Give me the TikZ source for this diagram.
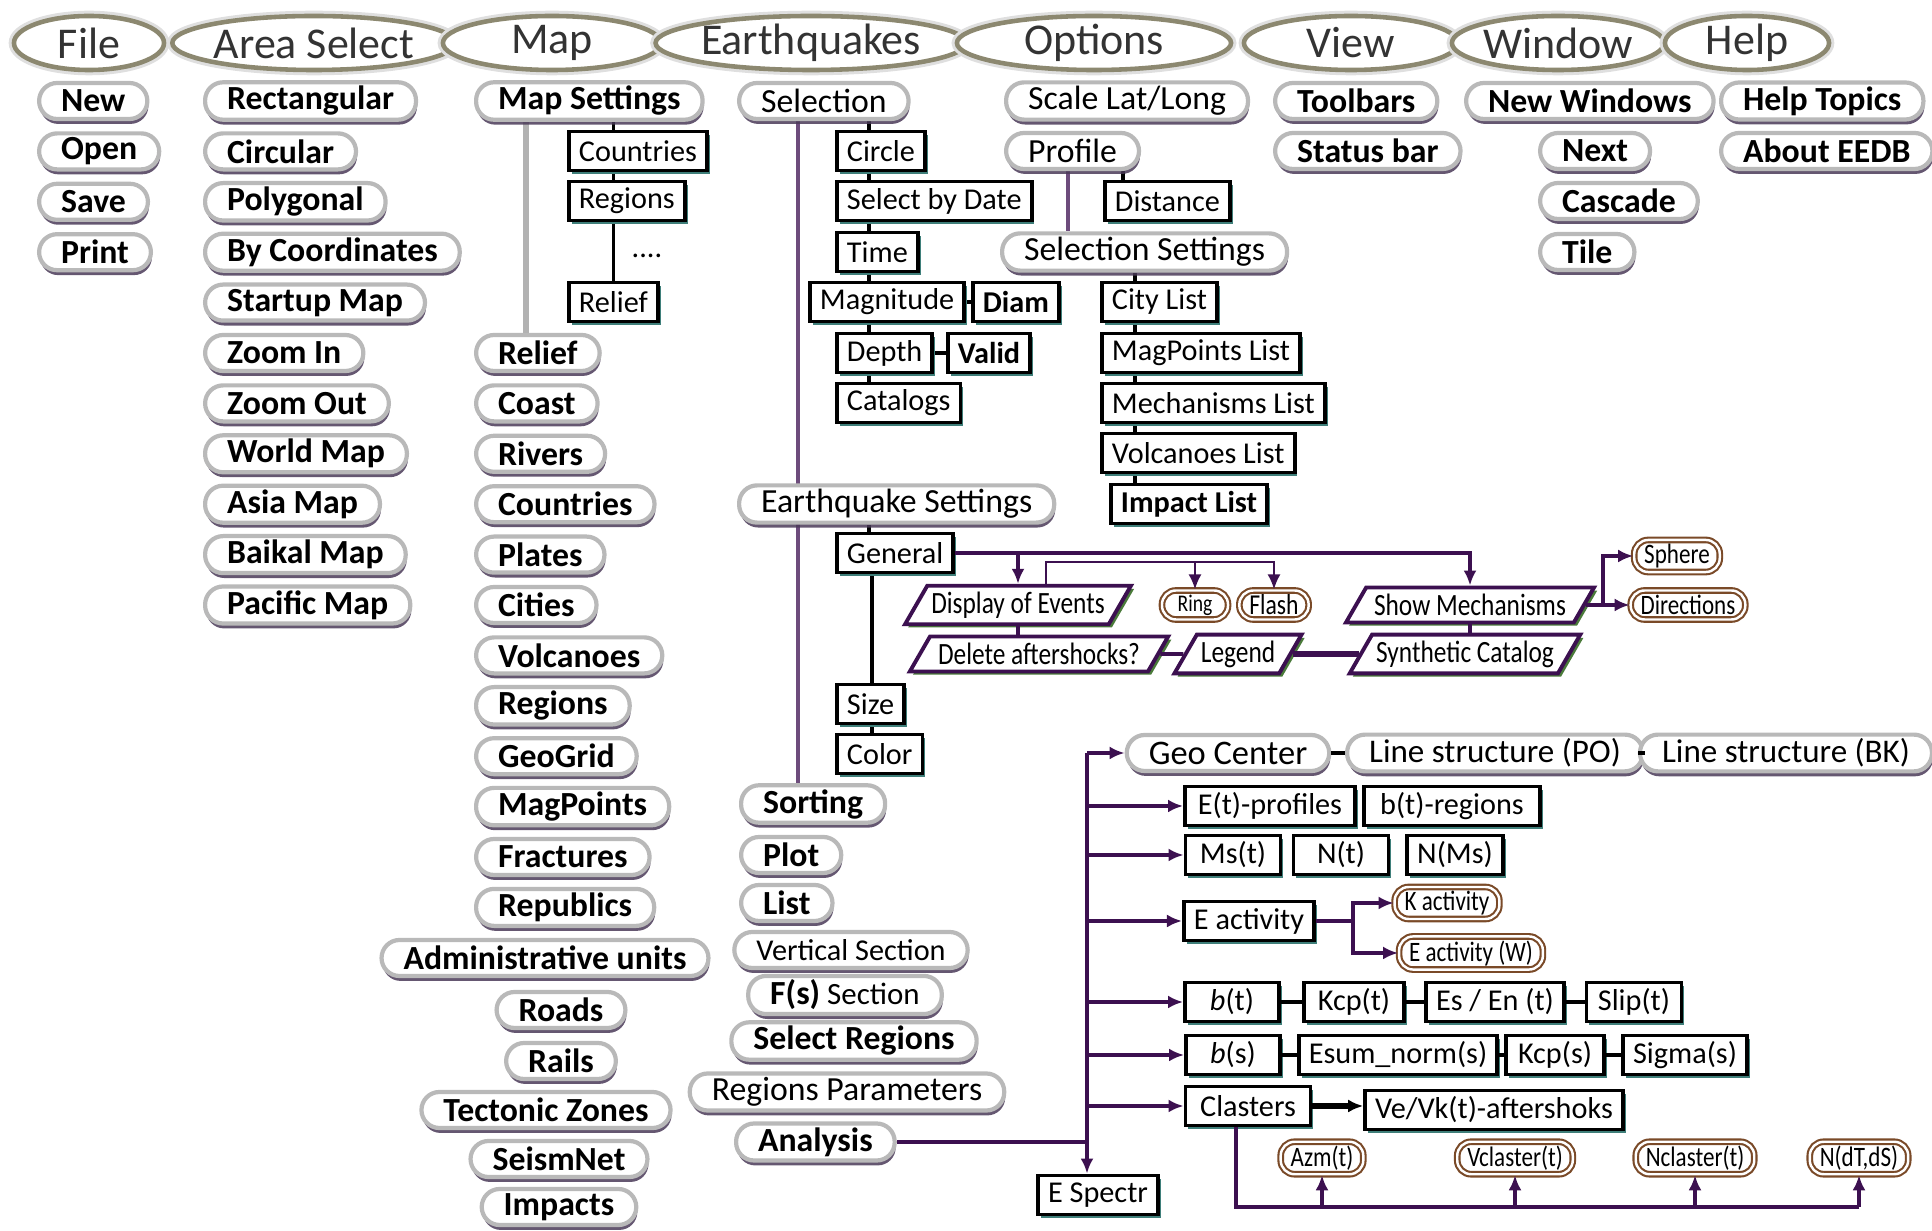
\documentclass[tikz,border=0pt]{standalone}
\usepackage{fontspec}
\setmainfont{Carlito}
\newfontfamily\condfont[FakeStretch=0.82]{Carlito}
\usetikzlibrary{shapes.geometric,shadows,arrows.meta,backgrounds}

\definecolor{linec}{HTML}{3C1050}
\definecolor{menuc}{HTML}{8C8870}
\definecolor{pillsh}{HTML}{4A3A58}
\definecolor{boxsh}{HTML}{3F7F7A}
\definecolor{parash}{HTML}{4A7A3A}
\definecolor{ovalc}{HTML}{7A4A28}

\newcommand\menufont{\fontsize{12.5}{14}\selectfont}
\newcommand\itemfont{\fontsize{9.6}{11}\selectfont}
\newcommand\bxfont{\fontsize{8.6}{10}\selectfont}
\newcommand\parafont{\condfont\fontsize{8.8}{10}\selectfont}
\newcommand\ovfont{\condfont\fontsize{8}{9}\selectfont}

\tikzset{
  menu/.style={ellipse, draw=menuc, line width=1.3pt, fill=white,
    preaction={draw=gray!25, line width=3pt}, inner sep=0pt,
    minimum height=5.4mm, text=black!80, font=\menufont},
  itemr/.style={rectangle, rounded corners=1.8mm, draw=gray!55, line width=1.2pt,
    fill=white, inner xsep=2.2mm, inner ysep=0.4mm, minimum height=3.6mm,
    drop shadow={shadow xshift=0.3pt, shadow yshift=-1.4pt, fill=pillsh, opacity=.85},
    font=\itemfont},
  item/.style={itemr, font=\itemfont\bfseries},
  box/.style={rectangle, draw=black, line width=1.1pt, fill=white,
    inner xsep=1mm, inner ysep=0.5mm, minimum height=3.9mm,
    drop shadow={shadow xshift=0.8pt, shadow yshift=-0.9pt, fill=boxsh, opacity=1},
    font=\bxfont},
  boldbox/.style={box, font=\bxfont\bfseries},
  para/.style={trapezium, trapezium left angle=60, trapezium right angle=120,
    draw=linec, line width=1.1pt, fill=white, inner xsep=0.4mm, inner ysep=0.6mm,
    minimum height=3.5mm,
    drop shadow={shadow xshift=0.9pt, shadow yshift=-0.9pt, fill=parash, opacity=1},
    font=\parafont},
  oval/.style={rectangle, rounded corners=1.4mm, draw=ovalc, line width=0.6pt,
    double=white, double distance=0.7pt, fill=white, inner xsep=1mm, inner ysep=0.4mm,
    minimum height=2.9mm, font=\ovfont},
  conn/.style={draw=linec, line width=1pt},
  thinc/.style={draw=linec, line width=0.6pt},
  tline/.style={draw=black, line width=1pt},
  gline/.style={draw=gray!60, line width=1.6pt},
  sline/.style={draw=linec!75, line width=1.3pt},
  tip/.style={-{Latex[length=1.5mm, width=1.3mm]}}
}

\begin{document}
\begin{tikzpicture}[x=0.01cm, y=-0.01cm]
\useasboundingbox (0,0) rectangle (1932,1231);

% menu bar
\foreach \nm/\x/\w/\txt in {file/89/150/File, area/314/268/Area Select, map/552/218/Map,
    eq/811/270/Earthquakes, opt/1094/274/Options, view/1351/214/View,
    win/1558/212/Window, help/1747/164/Help}
  \node[menu, minimum width=\w*0.1mm] (\nm) at (\x,43) {\txt};

% File
\foreach \nm/\r/\txt in {fnew/0/New, fopen/1/Open, fsave/2/Save, fprint/3/Print}
  \node[item, anchor=west] (\nm) at (37,101+50.4*\r) {\txt};

% Area Select
\foreach \nm/\r/\txt in {arect/0/Rectangular, acirc/1/Circular, apoly/2/Polygonal,
    acoord/3/By Coordinates, astart/4/Startup Map, azin/5/Zoom In, azout/6/Zoom Out,
    aworld/7/World Map, aasia/8/Asia Map, abaik/9/Baikal Map, apac/10/Pacific Map}
  \node[item, anchor=west] (\nm) at (203,101+50.4*\r) {\txt};

% Map
\node[item, anchor=west] (mset) at (474,101) {Map Settings};
\node[box, anchor=west] (mcntb) at (567,151) {Countries};
\node[box, anchor=west] (mregb) at (567,201) {Regions};
\node[font=\bxfont] (mdots) at (647,256) {....};
\node[box, anchor=west] (mrelb) at (567,302) {Relief};
\foreach \nm/\r/\txt in {mrel/5/Relief, mcoast/6/Coast, mriv/7/Rivers, mcnt/8/Countries,
    mplat/9/Plates, mcit/10/Cities, mvolc/11/Volcanoes, mreg/12/Regions, mgrid/13/GeoGrid,
    mmagp/14/MagPoints, mfrac/15/Fractures, mrep/16/Republics}
  \node[item, anchor=west] (\nm) at (474,101+50.4*\r) {\txt};
\node[item] (madm) at (545,958) {Administrative units};
\node[item] (mroad) at (561,1010) {Roads};
\node[item] (mrail) at (561,1061) {Rails};
\node[item] (mtect) at (546,1110) {Tectonic Zones};
\node[item] (mseis) at (559,1159) {SeismNet};
\node[item] (mimp) at (559,1207) {Impacts};

% Earthquakes
\node[itemr, anchor=west] (sel) at (737,101) {Selection};
\node[box, anchor=west] (circ) at (835,151) {Circle};
\node[box, anchor=west] (sdate) at (835,201) {Select by Date};
\node[box, anchor=west] (time) at (835,252) {Time};
\node[box, anchor=west] (magn) at (808,302) {Magnitude};
\node[boldbox, anchor=west] (diam) at (971,302) {Diam};
\node[box, anchor=west] (depth) at (835,353) {Depth};
\node[boldbox, anchor=west] (valid) at (946,353) {Valid};
\node[box, anchor=west] (catal) at (835,403) {Catalogs};
\node[itemr, anchor=west] (eqset) at (737,504) {Earthquake Settings};
\node[box, anchor=west] (gen) at (835,553) {General};
\node[box, anchor=west] (size) at (835,704) {Size};
\node[box, anchor=west] (colr) at (835,754) {Color};
\node[item, anchor=west] (sort) at (739,804) {Sorting};
\node[item, anchor=west] (plot) at (739,855) {Plot};
\node[item, anchor=west] (list) at (739,903) {List};
\node[itemr, font=\fontsize{8.6}{10}\selectfont] (vsec) at (851,950) {Vertical Section};
\node[itemr, font=\fontsize{8.8}{10}\selectfont] (fsec) at (845,995) {{\bfseries\itemfont F(s)} Section};
\node[item] (sreg) at (854,1041) {Select Regions};
\node[itemr] (rpar) at (847,1092) {Regions Parameters};
\node[item, anchor=west] (anl) at (734,1142) {Analysis};

% Options
\node[itemr, anchor=west] (scale) at (1004,101) {Scale Lat/Long};
\node[itemr, anchor=west] (prof) at (1004,151) {Profile};
\node[box, anchor=west] (dist) at (1103,201) {Distance};
\node[itemr, anchor=west] (ssel) at (1000,252) {Selection Settings};
\node[box, anchor=west] (city) at (1100,302) {City List};
\node[box, anchor=west] (magl) at (1100,353) {MagPoints List};
\node[box, anchor=west] (mech) at (1100,403) {Mechanisms List};
\node[box, anchor=west] (volc) at (1100,453) {Volcanoes List};
\node[boldbox, anchor=west] (impl) at (1109,504) {Impact List};

% View, Window, Help
\node[item, anchor=west] (tbar) at (1273,101) {Toolbars};
\node[item, anchor=west] (sbar) at (1273,151) {Status bar};
\node[item, anchor=west] (nwin) at (1464,101) {New Windows};
\node[item, anchor=west] (next) at (1538,151) {Next};
\node[item, anchor=west] (casc) at (1538,201) {Cascade};
\node[item, anchor=west] (tile) at (1538,252) {Tile};
\node[item, anchor=west] (htop) at (1719,101) {Help Topics};
\node[item, anchor=west] (about) at (1719,151) {About EEDB};

% earthquake settings, general
\node[para] (disp) at (1018,605) {Display of Events};
\node[oval, minimum width=6.6mm, font=\condfont\fontsize{6.8}{8}\selectfont] (ring) at (1195,605) {Ring};
\node[oval, font=\condfont\fontsize{8.2}{10}\selectfont] (flash) at (1274,605) {Flash};
\node[para] (showm) at (1470,605) {Show Mechanisms};
\node[oval, minimum width=8mm] (sphere) at (1677,556) {Sphere};
\node[oval, minimum width=10.5mm] (direc) at (1688,605) {Directions};
\node[para] (delaft) at (1039,654) {Delete aftershocks?};
\node[para] (legend) at (1238,654) {Legend};
\node[para] (synth) at (1465,654) {Synthetic Catalog};

% analysis
\node[itemr, font=\fontsize{9.8}{11}\selectfont] (geo) at (1228,753) {Geo Center};
\node[itemr, font=\fontsize{9.4}{11}\selectfont] (lpo) at (1495,753) {Line structure (PO)};
\node[itemr, font=\fontsize{9.4}{11}\selectfont] (lbk) at (1786,753) {Line structure (BK)};
\node[box, minimum width=17mm] (etp) at (1270,806) {E(t)-profiles};
\node[box, minimum width=17.6mm] (btr) at (1452,806) {b(t)-regions};
\node[box, minimum width=9.5mm] (mst) at (1233,855) {Ms(t)};
\node[box, minimum width=9.5mm] (nt) at (1341,855) {N(t)};
\node[box, minimum width=9.5mm] (nms) at (1455,855) {N(Ms)};
\node[box, minimum width=12.6mm] (eact) at (1249,921) {E activity};
\node[oval] (kact) at (1447,903) {K activity};
\node[oval] (eactw) at (1471,953) {E activity (W)};
\node[box, minimum width=9.4mm] (bt) at (1232,1002) {\textit{b}(t)};
\node[box, minimum width=10mm] (kcpt) at (1354,1002) {Kcp(t)};
\node[box] (esen) at (1495,1002) {Es / En (t)};
\node[box, minimum width=9.5mm] (slip) at (1634,1002) {Slip(t)};
\node[box, minimum width=9.4mm] (bs) at (1233,1055) {\textit{b}(s)};
\node[box] (esum) at (1398,1055) {Esum\_norm(s)};
\node[box, minimum width=9.8mm] (kcps) at (1555,1055) {Kcp(s)};
\node[box] (sigs) at (1685,1055) {Sigma(s)};
\node[box, minimum width=12.5mm] (clas) at (1248,1106) {Clasters};
\node[box] (vevk) at (1494,1110) {Ve/Vk(t)-aftershoks};
\node[oval] (azm) at (1322,1158) {Azm(t)};
\node[oval] (vcl) at (1515,1158) {Vclaster(t)};
\node[oval] (ncl) at (1695,1158) {Nclaster(t)};
\node[oval] (ndts) at (1859,1158) {N(dT,dS)};
\node[box, minimum width=11.9mm] (espec) at (1098,1195) {E Spectr};

% spines and chains
\coordinate (mspine) at (526,0);
\coordinate (qspine) at (798,0);
\coordinate (schain) at (869,0);
\coordinate (gchain) at (872,0);
\coordinate (pchain) at (1068,0);
\coordinate (dchain) at (1123,0);
\coordinate (lchain) at (1135,0);
\begin{scope}[on background layer]
  \draw[gline] (mset.south -| mspine) -- (mspine |- mrel.north);
  \draw[tline] (mset.south -| mrelb) -- (mrelb.center);
  \draw[sline] (sel.south -| qspine) -- (qspine |- sort.north);
  \draw[tline] (sel.south -| schain) -- (schain |- catal.center);
  \draw[tline] (magn) -- (diam);
  \draw[tline] (depth) -- (valid);
  \draw[tline] (eqset.south -| schain) -- (schain |- gen.center);
  \draw[tline] (gen.south -| gchain) -- (gchain |- colr.center);
  \draw[sline] (prof.south -| pchain) -- (pchain |- ssel.north);
  \draw[tline] (prof.south -| dchain) -- (dchain |- dist.center);
  \draw[tline] (ssel.south -| lchain) -- (lchain |- impl.center);
\end{scope}

% general branches
\draw[conn, tip] (gen.east) -| (showm.north);
\draw[conn, tip] (gen.east -| disp.north) -- (disp.north);
\coordinate (dtop) at (1046,562);
\draw[thinc, tip] (dtop |- disp.north) -- (dtop) -| (flash.north);
\draw[thinc, tip] (dtop -| ring) -- (ring.north);
\coordinate (mj) at (1603,0);
\draw[conn, tip] (showm.east) -- (direc.west);
\draw[conn, tip] (showm.east -| mj) |- (sphere.west);
\draw[conn] (disp.south) -- (disp.south |- delaft.north);
\draw[conn] (delaft) -- (legend);
\draw[conn, line width=1.8pt] (legend) -- (synth);
\draw[conn] (showm.south) -- (showm.south |- synth.north);

% analysis branches
\coordinate (av) at (1087,0);
\draw[conn] (anl.east) -- (anl.east -| av);
\draw[conn, tip] (av |- geo) -- (av |- espec.north);
\foreach \t in {geo, etp, mst, eact, bt, bs, clas}
  \draw[conn, tip] (av |- \t) -- (\t.west);
\coordinate (ej) at (1353,0);
\draw[conn, tip] (eact.east) -- (eact.east -| ej) |- (kact.west);
\draw[conn, tip] (eact.east -| ej) |- (eactw.west);
\draw[tline] (geo) -- (lpo) (lpo) -- (lbk);
\draw[tline] (bt) -- (kcpt) (kcpt) -- (esen) (esen) -- (slip);
\draw[tline] (bs) -- (esum) (esum) -- (kcps) (kcps) -- (sigs);
\draw[tline, line width=1.8pt, tip] (clas) -- (clas -| vevk.west);
\coordinate (cb) at (1236,1207);
\draw[conn] (cb |- clas.south) -- (cb) -- (cb -| ndts);
\foreach \t in {azm, vcl, ncl, ndts}
  \draw[conn, tip] (cb -| \t) -- (\t.south);
\end{tikzpicture}
\end{document}
